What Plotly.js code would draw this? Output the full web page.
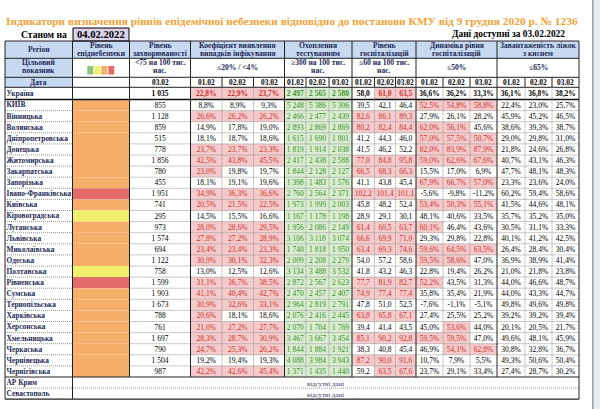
<!DOCTYPE html>
<html><head><meta charset="utf-8">
<script src="https://cdn.plot.ly/plotly-3.0.1.min.js"></script>
<style>html,body{margin:0;padding:0;background:#fff}#chart{width:600px;height:409px}</style>
</head><body><div id="chart"></div>
<script>
// ---------- DATA ----------
const titleText = "Індикатори визначення рівнів епідемічної небезпеки відповідно до постанови КМУ від 9 грудня 2020 р. № 1236";
const asOfLabel = "Станом на";
const asOfDate = "04.02.2022";
const dataAvail = "Дані доступні за 03.02.2022";
const missingLabel = "відсутні дані";
const regions = ["Україна","КИЇВ","Вінницька","Волинська","Дніпропетровська","Донецька","Житомирська","Закарпатська","Запорізька","Івано-Франківська","Київська","Кіровоградська","Луганська","Львівська","Миколаївська","Одеська","Полтавська","Рівненська","Сумська","Тернопільська","Харківська","Херсонська","Хмельницька","Черкаська","Чернівецька","Чернігівська","АР Крим","Севастополь"];
const levels = ["none","orange","orange","orange","orange","orange","orange","orange","orange","red","orange","yellow","orange","orange","orange","orange","yellow","red","orange","orange","orange","orange","orange","orange","orange","orange"];
const incidence = [1035,855,1128,859,515,778,1856,780,455,1951,741,295,973,1574,694,1122,758,1599,1903,1673,788,761,1697,790,1504,987];
const inf01 = [22.8,8.8,26.6,14.9,18.1,23.7,42.5,23.0,18.1,34.9,20.5,14.5,28.0,27.8,23.4,30.9,13.0,31.1,41.1,30.9,20.6,21.0,28.3,24.7,19.2,42.2];
const inf02 = [22.9,8.9,26.2,17.8,18.7,23.7,43.8,19.8,19.1,36.3,21.5,15.5,28.6,27.2,23.4,30.1,12.5,36.7,40.4,32.6,18.1,27.2,28.7,25.3,19.4,42.6];
const inf03 = [23.7,9.3,26.2,19.0,18.6,23.3,45.5,19.7,19.6,36.6,22.5,16.6,29.5,28.9,23.3,32.3,12.6,38.5,42.7,33.1,18.6,27.7,30.9,26.2,19.3,45.4];
const test01 = [2497,5248,2466,2893,1615,1819,2417,1844,1398,2760,1973,1167,1956,3106,1740,2009,3134,2872,2470,2964,2076,2070,3467,1844,4088,1371];
const test02 = [2565,5386,2477,2869,1690,1914,2438,2128,1483,2564,1999,1178,2086,3118,1818,2208,3488,2567,2457,2819,2416,1704,3667,1884,3984,1435];
const test03 = [2580,5306,2439,2869,1801,2038,2588,2127,1576,2371,2003,1198,2149,3074,1950,2279,3532,2623,2407,2791,2445,1769,3454,1921,3943,1440];
const hosp01 = [58.0,39.5,82.6,80.2,41.2,41.5,77.0,66.5,41.1,102.2,45.8,28.9,61.4,66.6,63.4,54.0,41.8,77.7,74.9,47.8,63.8,39.4,85.1,38.3,87.2,59.2];
const hosp02 = [61.0,42.1,86.1,82.4,44.3,46.2,84.8,68.3,43.8,101.4,48.2,29.1,60.5,69.9,69.3,57.2,43.2,81.9,77.4,51.0,65.8,41.4,90.2,40.8,90.0,63.5];
const hosp03 = [63.5,46.4,89.3,84.4,46.0,52.2,95.8,66.3,45.4,101.1,52.4,30.1,63.7,71.0,74.6,58.6,46.3,82.7,77.4,52.5,67.1,43.5,92.8,45.4,91.6,67.6];
const dyn01 = [36.6,52.5,27.9,62.0,57.0,82.0,59.0,15.5,67.9,-5.6,53.4,48.1,60.1,29.3,59.6,59.5,22.8,52.2,35.8,-7.6,27.4,45.0,59.5,46.9,10.7,23.7];
const dyn02 = [36.2,54.8,26.1,56.1,57.5,83.9,62.6,17.0,66.7,-9.8,50.3,40.6,46.4,29.8,64.5,58.6,19.4,43.5,35.4,-1.1,25.5,53.6,59.5,54.1,7.9,29.1];
const dyn03 = [33.3,58.8,28.2,45.6,50.7,87.9,67.6,6.9,57.0,-11.2,55.1,33.5,43.6,22.8,63.5,47.0,26.2,31.3,21.9,-5.1,25.2,44.0,47.0,62.8,5.5,33.4];
const beds01 = [36.1,22.4,45.9,38.6,29.0,21.8,40.7,47.7,23.3,60.2,41.5,35.7,30.5,40.1,26.4,36.9,21.0,44.0,44.0,49.8,39.2,20.1,49.6,30.8,49.3,27.4];
const beds02 = [36.8,23.0,45.2,39.3,29.8,24.6,43.1,48.1,23.6,59.4,44.6,35.2,31.1,41.2,28.4,38.9,21.8,46.6,43.3,49.6,39.2,20.5,48.1,32.8,50.6,28.7];
const beds03 = [38.2,25.7,46.5,38.7,31.0,26.8,46.3,48.3,24.0,58.6,48.1,35.0,33.3,42.5,30.4,41.4,23.8,48.7,44.7,49.8,39.4,21.7,45.9,36.7,50.4,30.2];
const dayLabels = ["01.02","02.02","03.02"];
const headTop = [["Регіон"],["Рівень","епіднебезпеки"],["Рівень","захворюваності"],["Коефіцієнт виявлення","випадків інфікування"],["Охоплення","тестуванням"],["Рівень","госпіталізацій"],["Динаміка рівня","госпіталізацій"],["Завантаженість ліжок","з киснем"]];
const headTarget = [["Цільовий","показник"],[],["&lt;75 на 100 тис.","нас."],["≤20% / &lt;4%"],["≥300 на 100 тис.","нас."],["≤60 на 100 тис.","нас."],["≤50%"],["≤65%"]];
const incidenceDate = "03.02";
const dateLabel = "Дата";

// ---------- STYLE / GEOMETRY ----------
const FONT = "Liberation Serif, Times New Roman, serif";
const NAVY = "#1f2a56";
const C = {blue:"#c6d9f1", pink:"#f5caca", red:"#c8302c", green:"#d8ecd0", gtext:"#3d8f2a",
           orange:"#f5af6b", lred:"#e46b6b", yellow:"#f1f06c", lgreen:"#93c47d", lav:"#d9d2e9"};
const levelColor = {none:"#ffffff", orange:C.orange, red:C.lred, yellow:C.yellow};
const X = [5,72.5,129.5,190.5,222,253.5,284.5,306,329,352,374.5,395.5,416,443,470,497,525,552,579];
const groupStarts = [0,1,2,3,6,9,12,15]; const groupEnds = [1,2,3,6,9,12,15,18];
const Y_TOP=41, Y_H1=58.3, Y_H2=77.3, Y_H3=87.3, Y_UA=99.5, RH=11.1;
const rTop = i => i===0 ? Y_H3 : Y_UA+(i-1)*RH;
const rBot = i => i===0 ? Y_UA : Y_UA+i*RH;
const rMid = i => (rTop(i)+rBot(i))/2;
const nAll = regions.length, nData = incidence.length;
const yBottom = rBot(nAll-1);
const cx = c => (X[c]+X[c+1])/2;

const fmtInt = v => String(v).replace(/\B(?=(\d{3})+(?!\d))/g,' ');
const fmt1 = v => v.toFixed(1).replace('.',',');
const fmtPct = v => fmt1(v)+'%';

const dataCols = [
  {arrs:[incidence], fmt:fmtInt, st:v=>'plain'},
  {arrs:[inf01,inf02,inf03], fmt:fmtPct, st:v=>v>20?'bad':'plain'},
  {arrs:[test01,test02,test03], fmt:fmtInt, st:v=>'good'},
  {arrs:[hosp01,hosp02,hosp03], fmt:fmt1, st:v=>v>60?'bad':'plain'},
  {arrs:[dyn01,dyn02,dyn03], fmt:fmtPct, st:v=>v>50?'bad':'plain'},
  {arrs:[beds01,beds02,beds03], fmt:fmtPct, st:v=>v>65?'bad':'plain'}
];

const shapes=[], annotations=[], traces=[];
const rect=(x0,x1,y0,y1,fill,lc,lw)=>shapes.push({type:'rect',xref:'x',yref:'y',x0,x1,y0,y1,fillcolor:fill,line:{width:lw||0,color:lc||fill},layer:'below'});
const line=(x0,y0,x1,y1,color,width,dash)=>shapes.push({type:'line',xref:'x',yref:'y',x0,y0,x1,y1,line:{color,width,dash:dash||'solid'}});
const ann=(x,y,text,size,opts)=>annotations.push(Object.assign({xref:'x',yref:'y',x,y,text,showarrow:false,font:{family:FONT,size,color:NAVY},xanchor:'center',yanchor:'middle'},opts||{}));

// header fills
rect(X[0],X[18],Y_TOP,Y_H1,C.blue);
rect(X[0],X[1],Y_H1,Y_H3,C.blue);
// legend squares
[C.lgreen,C.yellow,C.orange,C.lred].forEach((col,k)=>rect(87.3+k*7,93.3+k*7,66,74.5,col));
// date box
rect(73,129,28,41,C.lav,"#000",1);

// body fills
let colIdx=2;
dataCols.forEach(g=>{
  g.arrs.forEach(arr=>{
    const c=colIdx++;
    const texts=[], colors=[], ys=[];
    arr.forEach((v,i)=>{
      const s=g.st(v);
      if(s==='bad') rect(X[c],X[c+1],rTop(i),rBot(i),C.pink);
      if(s==='good') rect(X[c],X[c+1],rTop(i),rBot(i),C.green);
      const t=g.fmt(v);
      texts.push(i===0?'<b>'+t+'</b>':t);
      colors.push(s==='bad'?C.red:(s==='good'?C.gtext:'#000'));
      ys.push(rMid(i)+0.6);
    });
    traces.push({type:'scatter',mode:'text',x:arr.map(()=>cx(c)),y:ys,text:texts,
      textposition:'middle center',textfont:{family:FONT,size:7.5,color:colors},hoverinfo:'skip',cliponaxis:false,showlegend:false});
  });
});
levels.forEach((lv,i)=>{ if(lv!=='none') rect(X[1],X[2],rTop(i),rBot(i),levelColor[lv]); });

// region names
traces.push({type:'scatter',mode:'text',x:regions.map(()=>6.5),y:regions.map((r,i)=>rMid(i)+0.6),
  text:regions.map(r=>'<b>'+r+'</b>'),textposition:'middle right',
  textfont:{family:FONT,size:7.4,color:NAVY},hoverinfo:'skip',cliponaxis:false,showlegend:false});
// missing data rows
for(let i=nData;i<nAll;i++) ann((X[1]+X[18])/2,rMid(i)+0.6,missingLabel,6.8,{font:{family:FONT,size:6.8,color:"#3a4060"}});

// header texts
const gCenters = groupStarts.map((s,k)=>(X[s]+X[groupEnds[k]])/2);
headTop.forEach((lines,k)=>{
  if(lines.length===1) ann(gCenters[k],49.8,'<b>'+lines[0]+'</b>',7.6);
  else lines.forEach((l,j)=>ann(gCenters[k],45.4+j*8.3,'<b>'+l+'</b>',7.6));
});
headTarget.forEach((lines,k)=>{
  if(lines.length===1) ann(gCenters[k],67.8,'<b>'+lines[0]+'</b>',7.6);
  else lines.forEach((l,j)=>ann(gCenters[k],62.9+j*8,'<b>'+l+'</b>',7.6));
});
ann(cx(0),82.5,'<b>'+dateLabel+'</b>',7.6);
ann(cx(2),82.5,'<b>'+incidenceDate+'</b>',7.4,{font:{family:FONT,size:7.4,color:'#000'}});
for(let c=3;c<18;c++) ann(cx(c),82.5,'<b>'+dayLabels[(c-3)%3]+'</b>',7.4,{font:{family:FONT,size:7.4,color:'#000'}});

// title + labels
ann(292,20.7,'<b>'+titleText+'</b>',11.4,{font:{family:FONT,size:11.4,color:"#f4a234"}});
ann(68.5,34.4,'<b>'+asOfLabel+'</b>',9.6,{xanchor:'right',font:{family:FONT,size:9.6,color:'#000'}});
ann(101,34.6,'<b>'+asOfDate+'</b>',10.6,{font:{family:FONT,size:10.6,color:'#000'}});
ann(567,34.4,'<b>'+dataAvail+'</b>',9.4,{xanchor:'right',font:{family:FONT,size:9.4,color:'#000'}});

// grid lines
const DOT="1px,1px", GR="#7a7a7a";
for(let i=2;i<nAll;i++){
  const y=rTop(i);
  if(i===nData){ line(X[0],y,X[18],y,"#222",1); continue; }
  if(i<nData){ line(X[0],y,X[1],y,GR,0.8,DOT); line(X[2],y,X[18],y,GR,0.8,DOT); }
  else line(X[0],y,X[18],y,GR,0.8,DOT);
}
[Y_TOP,Y_H1,Y_H2,Y_H3].forEach(y=>line(X[0],y,X[18],y,"#222",1));
line(X[0],Y_UA,X[18],Y_UA,"#111",1.6);
line(X[0],yBottom,X[18],yBottom,"#222",1.2);
[0,1,18].forEach(c=>line(X[c],Y_TOP,X[c],yBottom,"#222",1));
[2,3,6,9,12,15].forEach(c=>line(X[c],Y_TOP,X[c],rTop(nData),"#222",1));
[4,5,7,8,10,11,13,14,16,17].forEach(c=>{
  line(X[c],Y_H2,X[c],Y_H3,"#222",1);
  line(X[c],Y_H3,X[c],rTop(nData),GR,0.8,DOT);
});
// window edge at right
rect(593.5,600,0,409,"#e6ebf1");
line(592.8,0,592.8,409,"#8d949c",1.4);

const layout={width:600,height:409,margin:{l:0,r:0,t:0,b:0},paper_bgcolor:'#fff',plot_bgcolor:'#fff',
  xaxis:{range:[0,600],visible:false,fixedrange:true},yaxis:{range:[409,0],visible:false,fixedrange:true},
  shapes,annotations,showlegend:false};
Plotly.newPlot('chart',traces,layout,{staticPlot:true,displayModeBar:false});
</script></body></html>
